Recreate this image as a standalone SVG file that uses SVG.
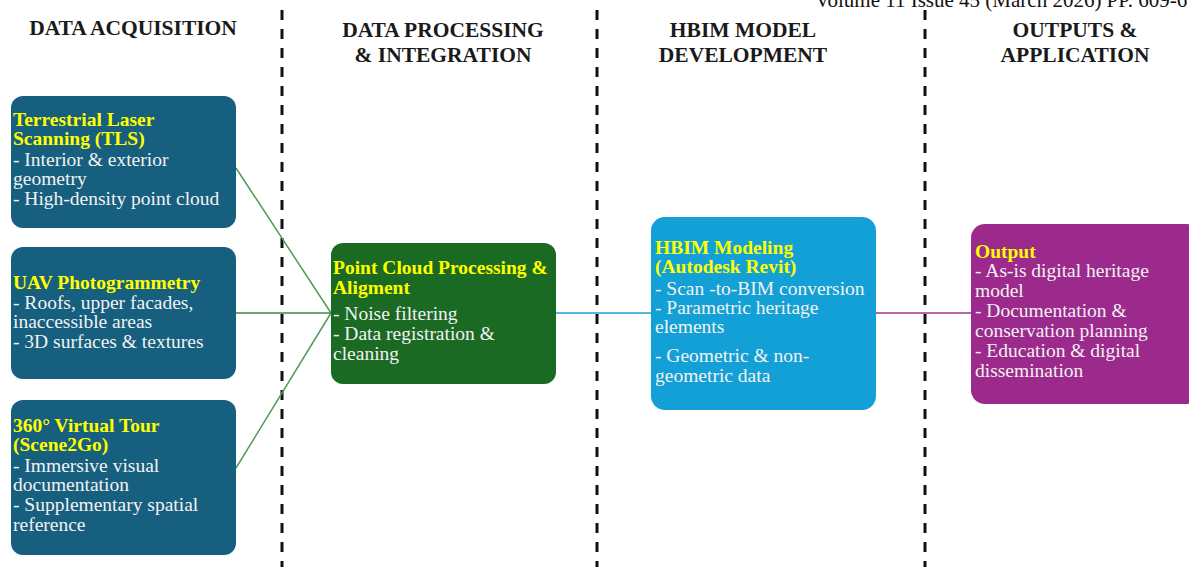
<svg xmlns="http://www.w3.org/2000/svg" width="1189" height="567" viewBox="0 0 1189 567">
<style>
text{font-family:"Liberation Serif","Times New Roman","DejaVu Serif",serif}
.hdr{font-weight:bold;font-size:21.5px;fill:#1a1a1a;text-anchor:middle}
.t{font-size:19.5px;fill:#f2f2f2}
.ti{font-size:19.5px;font-weight:bold;fill:#ffff00}
.div{stroke:#111;stroke-width:3;stroke-dasharray:10 9}
</style>
<rect width="1189" height="567" fill="#fff"/>
<text x="815" y="7" font-size="21" fill="#111">Volume 11 Issue 45 (March 2026) PP. 609-6</text>
<g id="dividers">
<line class="div" x1="282" y1="10" x2="282" y2="567"/>
<line class="div" x1="597" y1="10" x2="597" y2="567"/>
<line class="div" x1="925" y1="10" x2="925" y2="567"/>
</g>
<g id="headers">
<text class="hdr" x="133" y="35">DATA ACQUISITION</text>
<text class="hdr" x="443" y="37">DATA PROCESSING</text>
<text class="hdr" x="443" y="62">&amp; INTEGRATION</text>
<text class="hdr" x="743" y="37">HBIM MODEL</text>
<text class="hdr" x="743" y="62">DEVELOPMENT</text>
<text class="hdr" x="1075" y="37">OUTPUTS &amp;</text>
<text class="hdr" x="1075" y="62">APPLICATION</text>
</g>
<g id="connectors" fill="none" stroke-width="1.5">
<line x1="236" y1="168" x2="331" y2="313" stroke="#4f9a55"/>
<line x1="236" y1="313" x2="331" y2="313" stroke="#3e8a45"/>
<line x1="236" y1="468" x2="331" y2="313" stroke="#4f9a55"/>
<line x1="556" y1="313" x2="651" y2="313" stroke="#1aa0d8"/>
<line x1="876" y1="313" x2="971" y2="313" stroke="#a0309a"/>
</g>
<g id="tls">
<rect x="11" y="96" width="225" height="132" rx="12" fill="#175f7f"/>
<text class="ti" x="13" y="126">Terrestrial Laser</text>
<text class="ti" x="13" y="145">Scanning (TLS)</text>
<text class="t" x="13" y="166">- Interior &amp; exterior</text>
<text class="t" x="13" y="185">geometry</text>
<text class="t" x="13" y="205">- High-density point cloud</text>
</g>
<g id="uav">
<rect x="11" y="247" width="225" height="132" rx="12" fill="#175f7f"/>
<text class="ti" x="13" y="289">UAV Photogrammetry</text>
<text class="t" x="13" y="309">- Roofs, upper facades,</text>
<text class="t" x="13" y="328">inaccessible areas</text>
<text class="t" x="13" y="348">- 3D surfaces &amp; textures</text>
</g>
<g id="tour">
<rect x="11" y="400" width="225" height="155" rx="12" fill="#175f7f"/>
<text class="ti" x="13" y="432">360° Virtual Tour</text>
<text class="ti" x="13" y="451">(Scene2Go)</text>
<text class="t" x="13" y="472">- Immersive visual</text>
<text class="t" x="13" y="491">documentation</text>
<text class="t" x="13" y="511">- Supplementary spatial</text>
<text class="t" x="13" y="531">reference</text>
</g>
<g id="pointcloud">
<rect x="331" y="243" width="225" height="141" rx="12" fill="#1b6a24"/>
<text class="ti" x="333" y="274">Point Cloud Processing &amp;</text>
<text class="ti" x="333" y="294">Aligment</text>
<text class="t" x="333" y="320">- Noise filtering</text>
<text class="t" x="333" y="340">- Data registration &amp;</text>
<text class="t" x="333" y="360">cleaning</text>
</g>
<g id="hbim">
<rect x="651" y="217" width="225" height="193" rx="14" fill="#12a0d6"/>
<text class="ti" x="655" y="254">HBIM Modeling</text>
<text class="ti" x="655" y="273">(Autodesk Revit)</text>
<text class="t" x="655" y="295">- Scan -to-BIM conversion</text>
<text class="t" x="655" y="314">- Parametric heritage</text>
<text class="t" x="655" y="333">elements</text>
<text class="t" x="655" y="362">- Geometric &amp; non-</text>
<text class="t" x="655" y="382">geometric data</text>
</g>
<g id="output">
<rect x="971" y="224" width="230" height="180" rx="14" fill="#9c2a8c"/>
<text class="ti" x="975" y="258">Output</text>
<text class="t" x="975" y="277">- As-is digital heritage</text>
<text class="t" x="975" y="297">model</text>
<text class="t" x="975" y="317">- Documentation &amp;</text>
<text class="t" x="975" y="337">conservation planning</text>
<text class="t" x="975" y="357">- Education &amp; digital</text>
<text class="t" x="975" y="377">dissemination</text>
</g>
</svg>
